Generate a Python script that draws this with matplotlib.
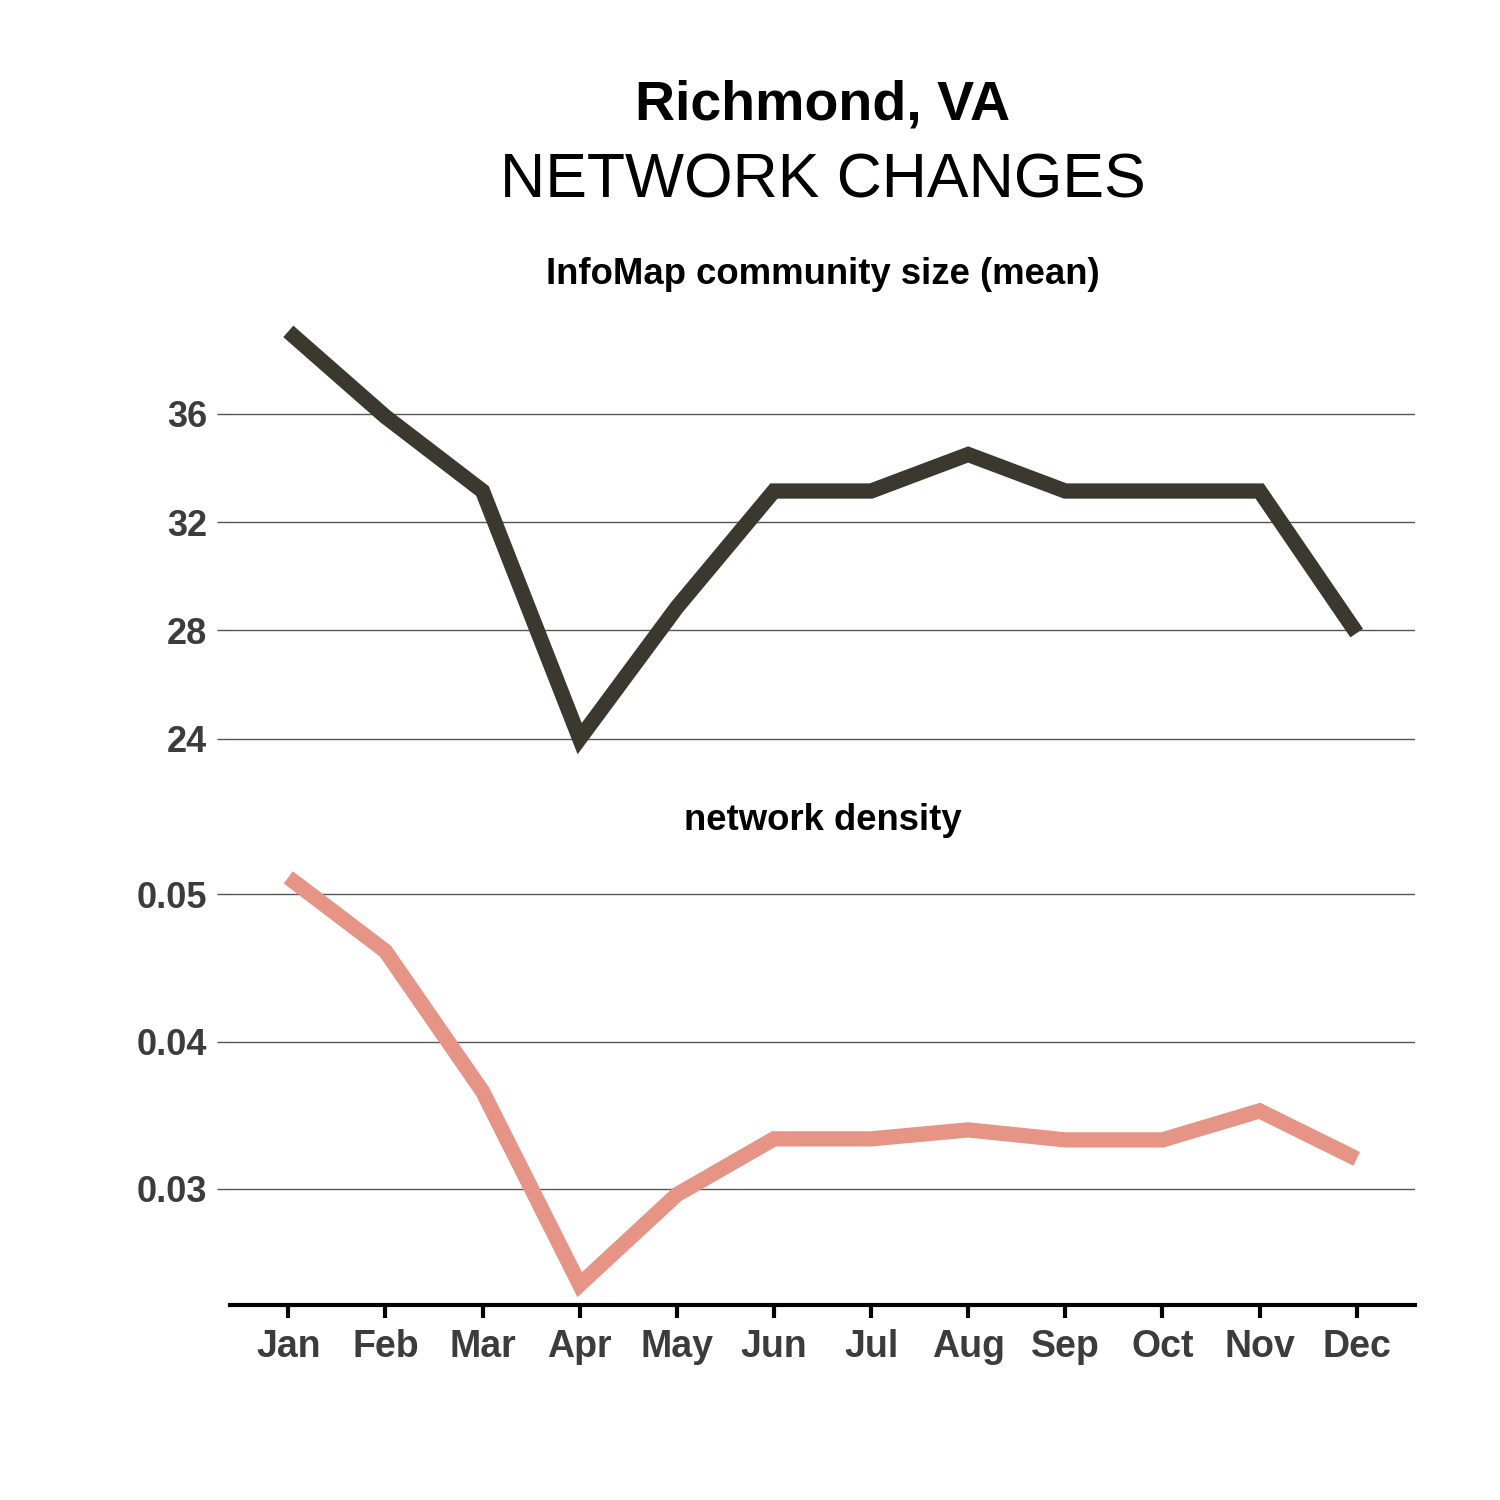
import matplotlib
matplotlib.use("Agg")
import matplotlib.pyplot as plt

months = ["Jan", "Feb", "Mar", "Apr", "May", "Jun", "Jul", "Aug", "Sep", "Oct", "Nov", "Dec"]
community_size = [39.05, 35.9, 33.15, 24.0, 28.85, 33.15, 33.15, 34.5, 33.15, 33.15, 33.15, 27.9]
density = [0.05115, 0.04614, 0.03661, 0.02349, 0.0296, 0.03339, 0.03339, 0.0340, 0.03332, 0.03332, 0.03529, 0.03203]
size_ticks = [24, 28, 32, 36]
density_ticks = [0.03, 0.04, 0.05]
density_labels = ["0.03", "0.04", "0.05"]

plt.rcParams['font.family'] = ['Liberation Sans', 'DejaVu Sans']

fig = plt.figure(figsize=(15, 15), dpi=100)
L, R = 230 / 1500, 1415 / 1500
ax1 = fig.add_axes([L, 1 - 759 / 1500, R - L, (759 - 311) / 1500])
ax2 = fig.add_axes([L, 1 - 1305 / 1500, R - L, (1305 - 857) / 1500])

x = list(range(len(months)))
dark = "#3b3830"
salmon = "#e59486"
gridc = "#555555"
tickc = "#3c3c3c"


def expand(vals):
    lo, hi = min(vals), max(vals)
    pad = (hi - lo) * 0.05
    return lo - pad, hi + pad


for ax in (ax1, ax2):
    ax.set_xlim(-0.6, len(months) - 1 + 0.6)
    for s in ["top", "right", "left", "bottom"]:
        ax.spines[s].set_visible(False)
    ax.grid(axis="y", color=gridc, linewidth=1.0)
    ax.set_axisbelow(True)
    ax.tick_params(axis="y", length=9.4, width=1.0, color=gridc, pad=7,
                   labelsize=26, labelcolor=tickc)

ax1.plot(x, community_size, color=dark, linewidth=11, solid_joinstyle="miter",
         solid_capstyle="butt")
ax1.set_ylim(*expand(community_size))
ax1.set_yticks(size_ticks)
ax1.set_yticklabels([str(t) for t in size_ticks], fontweight="bold")
ax1.set_xticks([])

ax2.plot(x, density, color=salmon, linewidth=11, solid_joinstyle="miter",
         solid_capstyle="butt")
ax2.set_ylim(*expand(density))
ax2.set_yticks(density_ticks)
ax2.set_yticklabels(density_labels, fontweight="bold")
ax2.set_xticks(x)
ax2.set_xticklabels(months, fontweight="bold")
ax2.spines["bottom"].set_visible(True)
ax2.spines["bottom"].set_linewidth(3)
ax2.spines["bottom"].set_color("black")
ax2.tick_params(axis="x", length=9.4, width=3, color="black", pad=8,
                labelsize=27, labelcolor=tickc)

cx = (L + R) / 2
fig.text(cx, 1 - 105 / 1500, "Richmond, VA", ha="center", va="center",
         fontsize=40, fontweight="bold", color="black")
fig.text(cx, 1 - 181 / 1500, "NETWORK CHANGES", ha="center", va="center",
         fontsize=45, color="black")
fig.text(cx, 1 - 274 / 1500, "InfoMap community size (mean)", ha="center", va="center",
         fontsize=26.3, fontweight="bold", color="black")
fig.text(cx, 1 - 821 / 1500, "network density", ha="center", va="center",
         fontsize=26.3, fontweight="bold", color="black")

fig.savefig("out.png", dpi=100, facecolor="white")
